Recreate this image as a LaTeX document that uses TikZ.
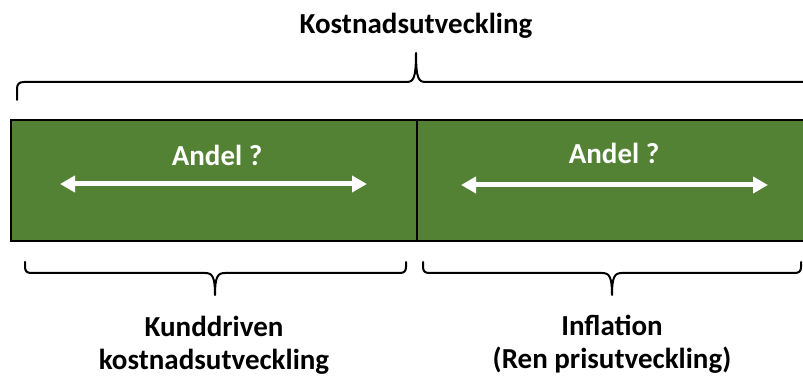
\documentclass[tikz,border=0pt]{standalone}
\usepackage{fontspec}
\setmainfont{Carlito}
\usetikzlibrary{arrows.meta}
\definecolor{boxgreen}{HTML}{548235}
\begin{document}
\begin{tikzpicture}[x=1pt,y=-1pt,
  bracepath/.style={draw=black,line width=2pt,line join=round,line cap=round},
  half/.style={draw=black,line width=2pt,fill=boxgreen,inner sep=0pt,minimum height=121pt},
  lbl/.style={font=\fontsize{29}{33}\selectfont\bfseries,align=center,inner sep=0pt},
  wlbl/.style={lbl,text=white},
  warrow/.style={draw=white,line width=5pt,{Triangle[length=15pt,width=16pt]}-{Triangle[length=15pt,width=16pt]}}]
\useasboundingbox (0,0) rectangle (803,379);
\clip (0,0) rectangle (803,379);
% title
\node[lbl] (title) at (416,26) {Kostnadsutveckling};
% top brace
\draw[bracepath] (17,100) -- (17,89) .. controls (17,84) and (19,82) .. (24,82)
  -- (406,82) .. controls (413,82) and (416,80) .. (416,53)
  .. controls (416,80) and (419,82) .. (426,82) -- (820,82);
% green boxes
\node[half,minimum width=406pt,anchor=north west] (left) at (10,119) {};
\node[half,minimum width=406pt,anchor=north west] (right) at (416,119) {};
% labels in boxes
\node[wlbl] (andelL) at (217,155) {Andel ?};
\node[wlbl] (andelR) at (614,153) {Andel ?};
\coordinate (aL1) at (60,184);
\coordinate (aL2) at (367,184);
\coordinate (aR1) at (461,185);
\coordinate (aR2) at (768,185);
\draw[warrow] (aL1) -- (aL2);
\draw[warrow] (aR1) -- (aR2);
% bottom left brace
\draw[bracepath] (25,262) -- (25,267) .. controls (25,271) and (27,273) .. (31,273)
  -- (205,273) .. controls (212,273) and (215,276) .. (215,295)
  .. controls (215,276) and (218,273) .. (225,273)
  -- (400,273) .. controls (404,273) and (406,271) .. (406,267) -- (406,262);
% bottom right brace
\draw[bracepath] (423,262) -- (423,267) .. controls (423,271) and (425,273) .. (429,273)
  -- (602,273) .. controls (609,273) and (612,276) .. (612,295)
  .. controls (612,276) and (615,273) .. (622,273)
  -- (795,273) .. controls (799,273) and (801,271) .. (801,267) -- (801,262);
% bottom labels
\node[lbl] (kund) at (214,345) {Kunddriven\\kostnadsutveckling};
\node[lbl] (infl) at (612,344) {Inflation\\(Ren prisutveckling)};
\end{tikzpicture}
\end{document}
